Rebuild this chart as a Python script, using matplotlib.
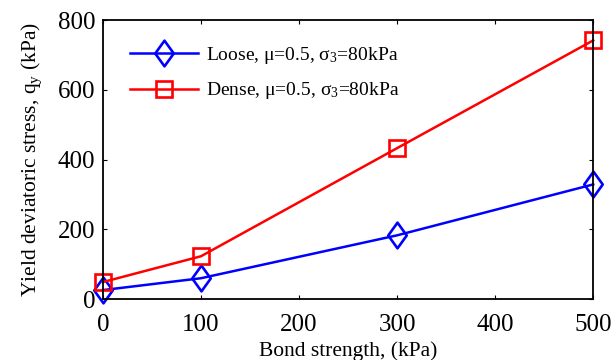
import matplotlib
matplotlib.use('Agg')
import matplotlib.pyplot as plt
from matplotlib.path import Path

plt.rcParams['font.family'] = ['Liberation Serif', 'DejaVu Serif']
plt.rcParams['mathtext.fontset'] = 'custom'
plt.rcParams['mathtext.rm'] = 'Liberation Serif'
plt.rcParams['mathtext.it'] = 'Liberation Serif'

# data
bond = [0, 100, 300, 500]
loose = [26, 60, 183, 329]
dense = [49, 123, 433, 742]
xticks = [0, 100, 200, 300, 400, 500]
yticks = [0, 200, 400, 600, 800]

# taller-than-wide diamond like the original
diamond = Path([(0, 1), (0.72, 0), (0, -1), (-0.72, 0), (0, 1)],
               [Path.MOVETO, Path.LINETO, Path.LINETO, Path.LINETO, Path.CLOSEPOLY])

fig = plt.figure(figsize=(6.16, 3.6), dpi=100)
ax = fig.add_axes([0.167, 0.169, 0.796, 0.775])

ax.plot(bond, loose, color='#0000ff', lw=1.8, marker=diamond, ms=18.5, mfc='none',
        mew=1.9, clip_on=False, label='Loose, μ=0.5, σ$_3$=80kPa')
ax.plot(bond, dense, color='#ff0000', lw=1.8, marker='s', ms=11.5, mfc='none',
        mew=1.9, clip_on=False, label='Dense, μ=0.5, σ$_3$=80kPa')

ax.set_xlim(0, 500)
ax.set_ylim(0, 800)
ax.set_xticks(xticks)
ax.set_yticks(yticks)
ax.tick_params(direction='in', top=True, right=True, labelsize=18, length=3, width=0.8)
ax.tick_params(axis='x', pad=10.5)
ax.tick_params(axis='y', pad=5.5)
for s in ax.spines.values():
    s.set_linewidth(1.3)

ax.set_xlabel('Bond strength, (kPa)', fontsize=15.5, labelpad=4)
ax.set_ylabel('Yield deviatoric stress, q$_y$ (kPa)', fontsize=15.5, labelpad=10)

ax.legend(loc='upper left', frameon=False, fontsize=14, handlelength=3.5,
          handletextpad=0.45, bbox_to_anchor=(0.019, 0.974), labelspacing=0.75)

fig.savefig('out.png', dpi=100)
